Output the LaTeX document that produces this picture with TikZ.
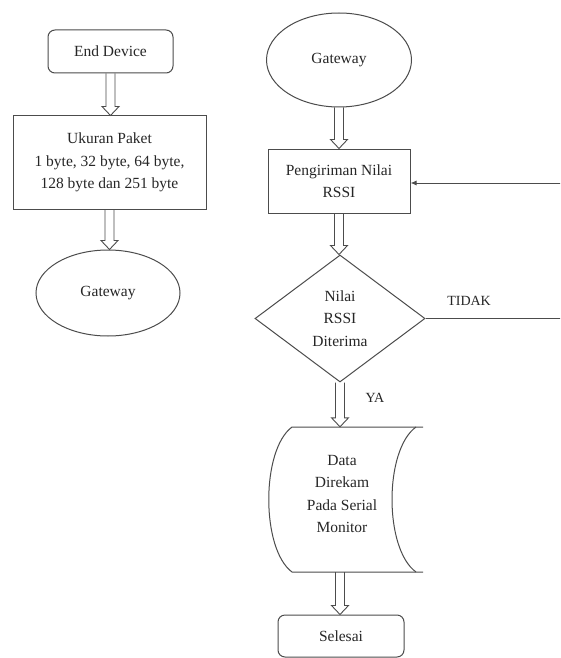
\documentclass[tikz,border=0pt]{standalone}
\usepackage{fontspec}
\setmainfont{Liberation Serif}
\usetikzlibrary{shapes.geometric,arrows.meta,calc}
\begin{document}
\begin{tikzpicture}[x=1pt,y=-1pt,
  every node/.style={font=\fontsize{15.5}{22.5}\selectfont, align=center, text=black!85},
  ln/.style={draw=black!70, line width=1pt},
  termbox/.style={ln, rounded corners=7pt, minimum width=125pt, minimum height=43pt, inner sep=0pt},
  procbox/.style={ln, minimum height=64pt, inner sep=0pt},
  oval/.style={ln, ellipse, inner sep=0pt},
  decision/.style={ln, diamond, minimum width=170pt, minimum height=127pt, inner sep=0pt},
  % hollow double-line arrow pointing downwards
  flow/.style={draw=black!70, line width=0.9pt, line join=miter,
    to path={let \p1=(\tikztostart), \p2=(\tikztotarget) in
      (\x1-4.5pt,\y1) -- (\x1-4.5pt,\y2+9pt) -- (\x1-8.5pt,\y2+9pt) -- (\x1,\y2)
      -- (\x1+8.5pt,\y2+9pt) -- (\x1+4.5pt,\y2+9pt) -- (\x1+4.5pt,\y1) \tikztonodes}},
  back/.style={ln, -{Latex[length=6pt,width=5pt]}},
  lbl/.style={font=\fontsize{14}{16}\selectfont}
]
\clip (0,0) rectangle (560,658);
\fill[white] (0,0) rectangle (560,658);

% left column
\node[termbox] (ed) at (110.5,51.5) {End Device};
\node[procbox, minimum width=193pt, minimum height=93pt] (uk) at (109.5,162.5)
  {Ukuran Paket\\1 byte, 32 byte, 64 byte,\\128 byte dan 251 byte};
\node[oval, minimum width=144pt, minimum height=86pt] (gw1) at (108,293) {Gateway};

\draw[flow] (ed.south) to (uk.north);
\draw[flow] (uk.south) to (gw1.north);

% right column
\node[oval, minimum width=145pt, minimum height=94pt] (gw2) at (339,60) {Gateway};
\node[procbox, minimum width=142pt] (kirim) at (339,181) {Pengiriman Nilai\\RSSI};
\node[decision] (cek) at (340,318.5) {Nilai\\RSSI\\Diterima};

% stored data symbol
\node[minimum height=145pt, minimum width=100pt, inner sep=0pt] (rekam) at (340,499.5) {};
\node (rekamteks) at (342,494) {Data\\Direkam\\Pada Serial\\Monitor};
\draw[ln] (423,427) -- (292,427)
  .. controls (261,450) and (261,549) .. (292,572) -- (423,572);
\draw[ln] (416,427) .. controls (384,450) and (384,549) .. (416,572);

\node[termbox, minimum width=126pt, minimum height=42pt] (selesai) at (341,636) {Selesai};

\draw[flow] (gw2.south) to (kirim.north);
\draw[flow] (kirim.south) to (cek.north);
\draw[flow] (cek.south) to (rekam.north);
\draw[flow] (rekam.south) to (selesai.north);
\node[lbl, anchor=west] (ya) at ($(cek.south)!0.35!(rekam.north)+(22,0)$) {YA};

% loop back when RSSI is not received
\coordinate (r1) at (566,318.5);
\coordinate (r2) at (566,183);
\draw[ln] (cek.east) -- (r1) node[lbl, pos=0.31, above=9pt] (tidak) {TIDAK};
\draw[back] (r1) -- (r2) -- (kirim.east |- r2);
\end{tikzpicture}
\end{document}
